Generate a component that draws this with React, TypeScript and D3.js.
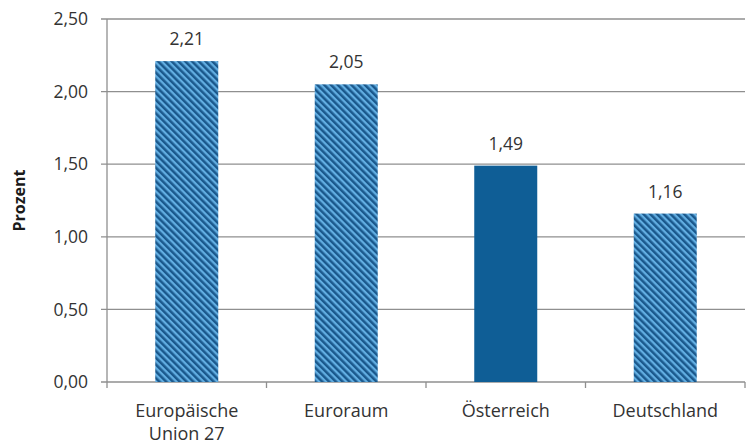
import React from "react";
import * as d3 from "d3";

const categories = ["Europäische\nUnion 27", "Euroraum", "Österreich", "Deutschland"];
const values = [2.21, 2.05, 1.49, 1.16];
const hatched = [true, true, false, true];
const yTicks = [0, 0.5, 1, 1.5, 2, 2.5];
const yTitle = "Prozent";

const W = 747;
const H = 445;
const margin = { top: 19, right: 2, bottom: 63, left: 107 };

const de = d3.formatLocale({ decimal: ",", thousands: ".", grouping: [3], currency: ["", " €"] });
const fmt = de.format(".2f");

const FONT = "'Open Sans', 'Noto Sans', sans-serif";
const TEXT = "#333333";
const GRID = "#8f8f8f";

export default function App() {
  const x = d3
    .scaleBand<string>()
    .domain(categories)
    .range([margin.left, W - margin.right])
    .paddingInner(0.605)
    .paddingOuter(0.3025);
  const band = d3.scaleBand<string>().domain(categories).range([margin.left, W - margin.right]);
  const y = d3.scaleLinear().domain([0, 2.5]).range([H - margin.bottom, margin.top]);

  const x0 = margin.left;
  const x1 = W - margin.right;
  const yBase = y(0);

  return (
    <svg
      width={W}
      height={H}
      style={{ position: "absolute", left: 0, top: 0, background: "#fff" }}
      fontFamily={FONT}
    >
      <defs>
        <pattern
          id="stripes"
          patternUnits="userSpaceOnUse"
          width={4.8}
          height={10}
          patternTransform="rotate(-45)"
        >
          <rect x={0} y={0} width={4.8} height={10} fill="#62aee2" />
          <rect x={0} y={0} width={2.5} height={10} fill="#1a588c" />
        </pattern>
      </defs>

      {/* horizontal gridlines and y tick labels */}
      {yTicks.map((t) => (
        <g key={t}>
          <line x1={x0 - 6} x2={x1} y1={y(t)} y2={y(t)} stroke={GRID} strokeWidth={1.3} />
          <text
            x={88}
            y={y(t)}
            dy="0.35em"
            textAnchor="end"
            fontSize={17.5}
            fill={TEXT}
          >
            {fmt(t)}
          </text>
        </g>
      ))}

      {/* y axis */}
      <line x1={x0} x2={x0} y1={y(2.5)} y2={yBase + 6} stroke={GRID} strokeWidth={1.3} />

      {/* category boundary ticks */}
      {categories.map((c) => {
        const bx = (band(c) as number) + band.bandwidth();
        return <line key={c} x1={bx} x2={bx} y1={yBase} y2={yBase + 6} stroke={GRID} strokeWidth={1.3} />;
      })}

      {/* bars */}
      {categories.map((c, i) => (
        <rect
          key={c}
          x={x(c)}
          y={y(values[i])}
          width={x.bandwidth()}
          height={yBase - y(values[i])}
          fill={hatched[i] ? "url(#stripes)" : "#0f5e96"}
        />
      ))}

      {/* value labels */}
      {categories.map((c, i) => (
        <text
          key={c}
          x={(x(c) as number) + x.bandwidth() / 2}
          y={y(values[i]) - 16}
          textAnchor="middle"
          fontSize={17.5}
          fill={TEXT}
        >
          {fmt(values[i])}
        </text>
      ))}

      {/* category labels */}
      {categories.map((c) => (
        <text
          key={c}
          x={(band(c) as number) + band.bandwidth() / 2}
          y={417}
          textAnchor="middle"
          fontSize={18}
          fill={TEXT}
        >
          {c.split("\n").map((line, j) => (
            <tspan key={j} x={(band(c) as number) + band.bandwidth() / 2} dy={j === 0 ? 0 : 23}>
              {line}
            </tspan>
          ))}
        </text>
      ))}

      {/* y axis title */}
      <text
        transform={`translate(25, ${(y(0) + y(2.5)) / 2 + 0}) rotate(-90)`}
        textAnchor="middle"
        fontSize={16}
        fontWeight="bold"
        fill="#1a1a1a"
      >
        {yTitle}
      </text>
    </svg>
  );
}
